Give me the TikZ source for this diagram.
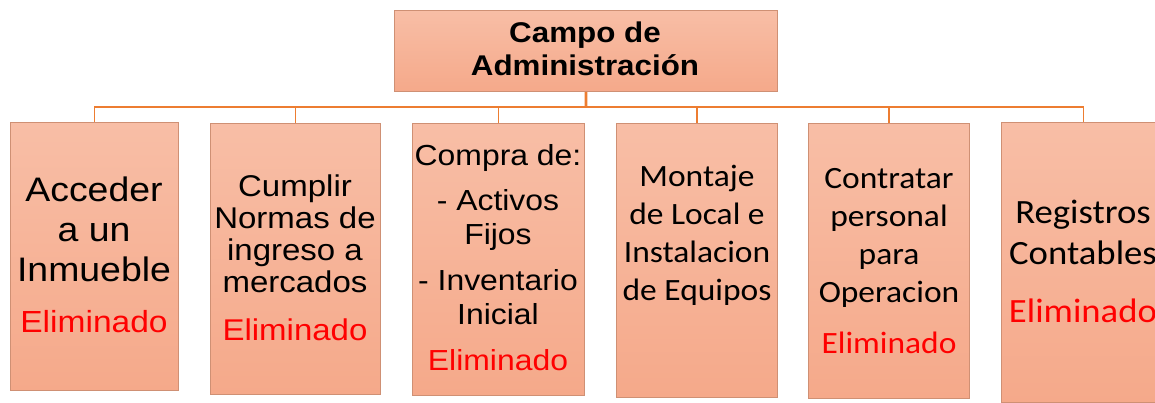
\documentclass[tikz,border=0pt]{standalone}
\usepackage{fontspec}
\newfontfamily\arialf[FakeStretch=1.1]{Liberation Sans}
\newfontfamily\calf[FakeStretch=1.08]{Carlito}
\definecolor{lineor}{HTML}{ED7D31}
\definecolor{boxtop}{HTML}{F8BEA6}
\definecolor{boxbot}{HTML}{F5A98A}
\definecolor{boxedge}{HTML}{CF9074}
\definecolor{elim}{HTML}{FF0000}
\tikzset{
  box/.style={draw=boxedge, line width=0.9pt, top color=boxtop, bottom color=boxbot,
    anchor=north west, inner sep=0pt},
  conn/.style={draw=lineor, line width=1.6pt},
  trunk/.style={draw=lineor, line width=2.6pt},
  txt/.style={inner sep=0pt, align=center, anchor=south},
  elimtxt/.style={inner sep=0pt, anchor=base, text=elim},
}
\begin{document}
\begin{tikzpicture}[x=1pt,y=-1pt]
\useasboundingbox (0,0) rectangle (1155,402);
\clip (0,0) rectangle (1155,402);
\fill[white] (0,0) rectangle (1155,402);
% boxes
\node[box, minimum width=383pt, minimum height=81pt] (top) at (394,10) {};
\node[box, minimum width=168pt, minimum height=268pt] (b1) at (10,122) {};
\node[box, minimum width=170pt, minimum height=271pt] (b2) at (210,123) {};
\node[box, minimum width=172pt, minimum height=272pt] (b3) at (412,123) {};
\node[box, minimum width=161pt, minimum height=274pt] (b4) at (616,123) {};
\node[box, minimum width=161pt, minimum height=275pt] (b5) at (808,123) {};
\node[box, minimum width=164pt, minimum height=280pt] (b6) at (1001,122) {};
% connectors
\coordinate (hub) at (586,107);
\draw[trunk] (top.south) -- (hub);
\foreach \b in {b1,b2,b3,b4,b5,b6} \draw[conn] (hub) -| (\b.north);
% texts
\node[txt, font=\arialf\bfseries\fontsize{28.5}{33}\selectfont] (ttop) at (585,76) {Campo de\\Administración};
\node[txt, font=\arialf\fontsize{34}{40}\selectfont] (t1) at (94,282) {Acceder\\a un\\Inmueble};
\node[elimtxt, font=\arialf\fontsize{30.5}{34}\selectfont] (e1) at (94,332) {Eliminado};
\node[txt, font=\arialf\fontsize{30}{32}\selectfont] (t2) at (295,293) {Cumplir\\Normas de\\ingreso a\\mercados};
\node[elimtxt, font=\arialf\fontsize{30}{34}\selectfont] (e2) at (295,340) {Eliminado};
\node[txt, font=\arialf\fontsize{29}{34}\selectfont] (t3) at (498,325) {Compra de:\\[11pt]- Activos\\Fijos\\[12pt]- Inventario\\Inicial};
\node[elimtxt, font=\arialf\fontsize{29}{34}\selectfont] (e3) at (498,370) {Eliminado};
\node[txt, font=\calf\fontsize{31}{38}\selectfont] (t4) at (697,306) {Montaje\\de Local e\\Instalacion\\de Equipos};
\node[txt, font=\calf\fontsize{31}{38}\selectfont] (t5) at (889,308) {Contratar\\personal\\para\\Operacion};
\node[elimtxt, font=\calf\fontsize{31}{38}\selectfont] (e5) at (889,353) {Eliminado};
\node[txt, font=\calf\fontsize{34}{41}\selectfont] (t6) at (1083,265) {Registros\\Contables};
\node[elimtxt, font=\calf\fontsize{34}{41}\selectfont] (e6) at (1083,322) {Eliminado};
\end{tikzpicture}
\end{document}
